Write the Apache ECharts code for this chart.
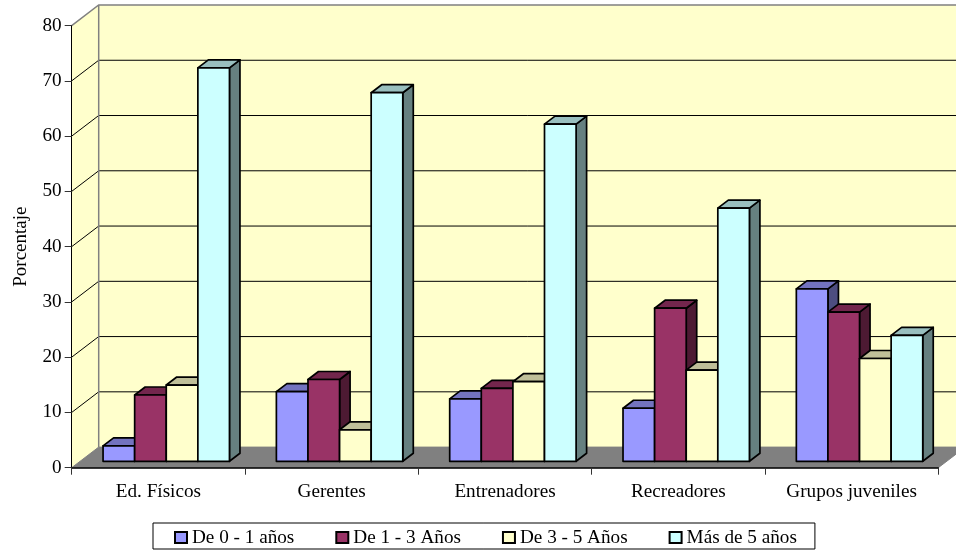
<!DOCTYPE html>
<html>
<head>
<meta charset="utf-8">
<style>html,body{margin:0;padding:0;background:#fff}#c{width:956px;height:550px}</style>
<script src="https://cdn.jsdelivr.net/npm/echarts@6/dist/echarts.min.js"></script>
</head>
<body>
<div id="c"></div>
<script>
const categories = ['Ed. Físicos', 'Gerentes', 'Entrenadores', 'Recreadores', 'Grupos juveniles'];
const seriesNames = ['De 0 - 1 años', 'De 1 - 3 Años', 'De 3 - 5 Años', 'Más de 5 años'];
const de0a1 = [2.8, 12.6, 11.3, 9.6, 31.2];
const de1a3 = [12.0, 14.8, 13.2, 27.7, 27.0];
const de3a5 = [13.8, 5.7, 14.4, 16.5, 18.6];
const mas5 = [71.2, 66.7, 61.0, 45.8, 22.8];
const seriesValues = [de0a1, de1a3, de3a5, mas5];
const colors = ['#9999FF', '#993366', '#FFFFCC', '#CCFFFF'];
const yTicks = [0, 10, 20, 30, 40, 50, 60, 70, 80];

const FONT = '"Liberation Serif", "Times New Roman", serif';
const WALL = {dx: 27, dy: -20.6};
const BAR = {dx: 10.5, dy: -8, w: 31.6, sx: 7.9, sy: -6.4};

function shade(hex, k) {
  const n = parseInt(hex.slice(1), 16);
  const c = [(n >> 16) & 255, (n >> 8) & 255, n & 255].map(v => Math.round(v * k));
  return 'rgb(' + c.join(',') + ')';
}

function renderWalls(params, api) {
  const g = params.coordSys;
  const x0 = g.x, x1 = g.x + g.width, yb = g.y + g.height, yt = g.y;
  const bx = x0 + WALL.dx, dy = WALL.dy;
  const children = [];
  children.push({type: 'polygon', shape: {points: [[x0, yb], [x0, yt], [bx, yt + dy], [x1 + WALL.dx, yt + dy], [x1 + WALL.dx, yb + dy], [bx, yb + dy]]},
    style: {fill: '#FFFFCC', stroke: null}});
  yTicks.forEach(t => {
    const y = api.coord([0, t])[1];
    if (t === 0 || t === 80) return;
    children.push({type: 'polyline', shape: {points: [[x0, y], [bx, y + dy], [x1 + WALL.dx, y + dy]]},
      style: {fill: null, stroke: '#000', lineWidth: 1}});
  });
  children.push({type: 'polyline', shape: {points: [[x0, yt], [bx, yt + dy], [x1 + WALL.dx, yt + dy]]},
    style: {fill: null, stroke: '#808080', lineWidth: 1.5}});
  children.push({type: 'line', shape: {x1: bx, y1: yt + dy, x2: bx, y2: yb + dy},
    style: {stroke: '#808080', lineWidth: 1.5}});
  children.push({type: 'polygon', shape: {points: [[x0, yb], [bx, yb + dy], [x1 + WALL.dx, yb + dy], [x1, yb]]},
    style: {fill: '#808080', stroke: '#808080', lineWidth: 1}});
  return {type: 'group', children};
}

function barRenderer(idx) {
  return function (params, api) {
    const base = api.coord([api.value(0), 0]);
    const top = api.coord([api.value(0), api.value(1)]);
    const xl = base[0] + BAR.sx + (idx - 2) * BAR.w, xr = xl + BAR.w;
    const yb = base[1] + BAR.sy, yt = top[1] + BAR.sy;
    const c = colors[idx];
    const line = {stroke: '#000', lineWidth: 1.7, lineJoin: 'round'};
    return {type: 'group', children: [
      {type: 'polygon', shape: {points: [[xr, yb], [xr, yt], [xr + BAR.dx, yt + BAR.dy], [xr + BAR.dx, yb + BAR.dy]]},
        style: Object.assign({fill: shade(c, 0.5)}, line)},
      {type: 'polygon', shape: {points: [[xl, yt], [xr, yt], [xr + BAR.dx, yt + BAR.dy], [xl + BAR.dx, yt + BAR.dy]]},
        style: Object.assign({fill: shade(c, 0.75)}, line)},
      {type: 'rect', shape: {x: xl, y: yt, width: BAR.w, height: yb - yt},
        style: Object.assign({fill: c}, line)}
    ]};
  };
}

const chart = echarts.init(document.getElementById('c'), null, {renderer: 'canvas'});
const series = [{
  type: 'custom', name: 'walls', z: 1, silent: true,
  renderItem: renderWalls, encode: {x: 0, y: 1}, data: [[0, 0]]
}];
seriesNames.forEach((name, i) => {
  series.push({
    type: 'custom', name, z: 2 + i,
    itemStyle: {color: colors[i], borderColor: '#000', borderWidth: 1},
    renderItem: barRenderer(i),
    encode: {x: 0, y: 1},
    data: seriesValues[i].map((v, k) => [k, v])
  });
});

chart.setOption({
  animation: false,
  backgroundColor: '#fff',
  textStyle: {fontFamily: FONT},
  grid: {left: 71.7, right: 17.7, top: 25.6, bottom: 82.3, containLabel: false, outerBoundsMode: 'none'},
  legend: {
    data: seriesNames, left: 153, top: 523,
    orient: 'horizontal', icon: 'rect',
    padding: [5, 18, 2, 21],
    itemWidth: 12, itemHeight: 11, itemGap: 41,
    borderColor: '#000', borderWidth: 1, backgroundColor: '#fff',
    selectedMode: false,
    textStyle: {fontFamily: FONT, fontSize: 19.2, color: '#000'}
  },
  xAxis: {
    type: 'category', data: categories, z: 10,
    axisLine: {show: true, lineStyle: {color: '#000', width: 1.5}},
    axisTick: {show: true, length: 7, lineStyle: {color: '#333', width: 1}},
    axisLabel: {color: '#000', fontFamily: FONT, fontSize: 19.2, margin: 15, interval: 0},
    splitLine: {show: false}
  },
  yAxis: {
    type: 'value', min: 0, max: 80, interval: 10, z: 10,
    name: 'Porcentaje', nameLocation: 'middle', nameGap: 41,
    nameTextStyle: {color: '#000', fontFamily: FONT, fontSize: 19},
    axisLine: {show: true, lineStyle: {color: '#000', width: 1}},
    axisTick: {show: true, length: 7, lineStyle: {color: '#333', width: 1}},
    axisLabel: {color: '#000', fontFamily: FONT, fontSize: 19.2, margin: 10},
    splitLine: {show: false}
  },
  series
});
</script>
</body>
</html>
